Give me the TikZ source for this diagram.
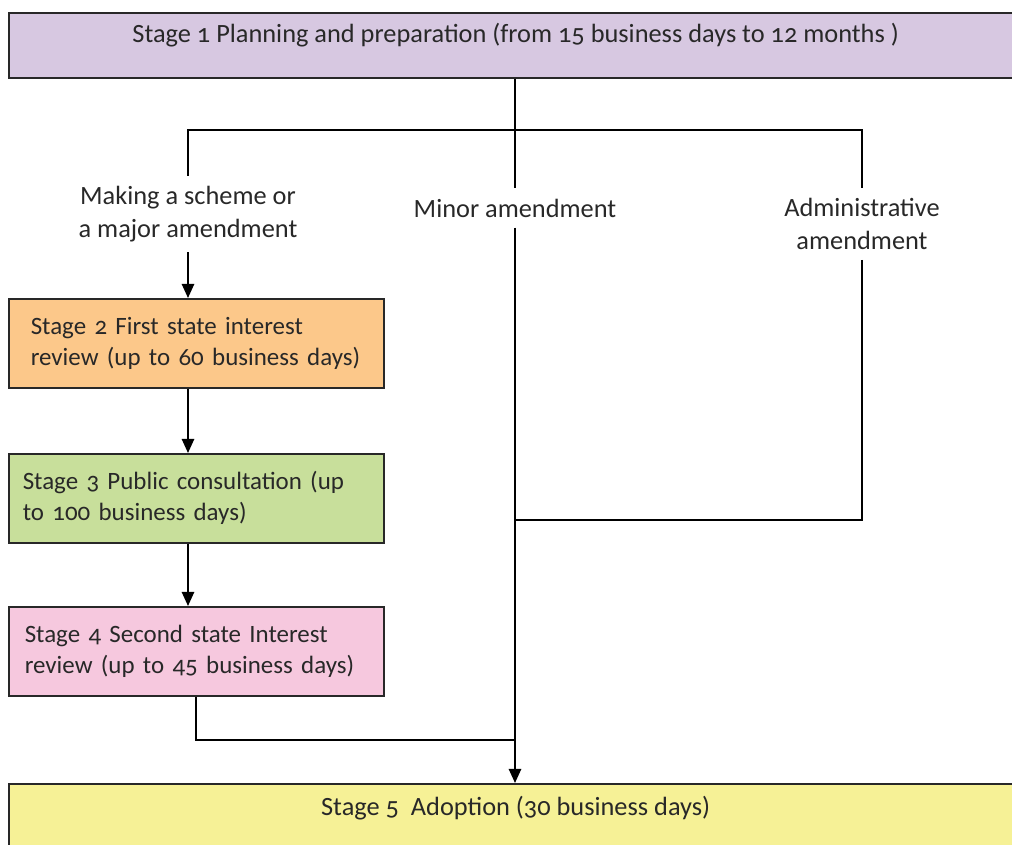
\documentclass[tikz,border=0pt]{standalone}
\usepackage{fontspec}
\setmainfont{Carlito}[Numbers=OldStyle]
\usetikzlibrary{arrows.meta, positioning, calc}
\definecolor{stageone}{RGB}{215,200,225}
\definecolor{stagetwo}{RGB}{252,200,138}
\definecolor{stagethree}{RGB}{200,223,155}
\definecolor{stagefour}{RGB}{246,200,222}
\definecolor{stagefive}{RGB}{246,241,150}
\definecolor{inkgray}{RGB}{40,40,40}

\begin{document}
\begin{tikzpicture}[x=0.02cm, y=-0.02cm, font=\fontsize{15}{17.5}\selectfont, text=inkgray,
        widebox/.style={draw=inkgray, line width=0.9pt, anchor=north west, inner sep=0pt, minimum width=20.28cm},
        stagebox/.style={draw=inkgray, line width=0.9pt, anchor=north west, inner xsep=0.2cm, text width=7.1cm, align=left, minimum height=1.78cm, font=\fontsize{14.2}{17.6}\selectfont},
        branch/.style={align=center, inner sep=0.2cm, font=\fontsize{15}{18.5}\selectfont},
        link/.style={line width=1pt, draw=black},
        arrow/.style={link, -{Triangle[length=8pt,width=7pt]}}]

        \useasboundingbox (0,0) rectangle (1012,845);
        \clip (0,0) rectangle (1012,845);

        % Stage boxes
        \node[widebox, fill=stageone, text height=0.6cm, text depth=0.7cm] (s1) at (8,12) {Stage 1 Planning and preparation (from 15 business days to 12 months )};
        \node[stagebox, fill=stagetwo] (s2) at (8,298) {\hspace{0.24cm}Stage 2 First state interest\\\hspace{0.24cm}review (up to 60 business days)};
        \node[stagebox, fill=stagethree] (s3) at (8,453) {\hspace{0.08cm}Stage 3 Public consultation (up\\\hspace{0.08cm}to 100 business days)};
        \node[stagebox, fill=stagefour] (s4) at (8,606) {\hspace{0.12cm}Stage 4 Second state Interest\\\hspace{0.12cm}review (up to 45 business days)};
        \node[widebox, fill=stagefive, text height=0.64cm, text depth=1cm] (s5) at (8,783) {Stage 5\ \ Adoption (30 business days)};

        % Branch labels
        \node[branch] (making) at (188,214) {Making a scheme or\\a major amendment};
        \node[branch] (minor) at (515,208) {Minor amendment};
        \node[branch] (admin) at (862,224) {Administrative\\amendment};

        % Junction points
        \coordinate (split) at (515,130);
        \coordinate (merge) at (515,520);
        \coordinate (meet) at (515,740);

        % Connectors
        \draw[link] (split |- s1.south) -- (split); % from Stage 1
        \draw[link] (making.north) |- (split) -| (admin.north); % the three branches
        \draw[link] (split) -- (minor.north);
        \draw[arrow] (making.south) -- (making.south |- s2.north);
        \draw[arrow] (s2.south -| making) -- (s3.north -| making);
        \draw[arrow] (s3.south -| making) -- (s4.north -| making);
        \draw[link] (s4.south) |- (meet); % Stage 4 joins
        \draw[link, line width=0.8pt] (admin.south) |- (merge); % administrative joins
        \draw[arrow] (minor.south) -- (minor.south |- s5.north); % into Stage 5

\end{tikzpicture}
\end{document}
